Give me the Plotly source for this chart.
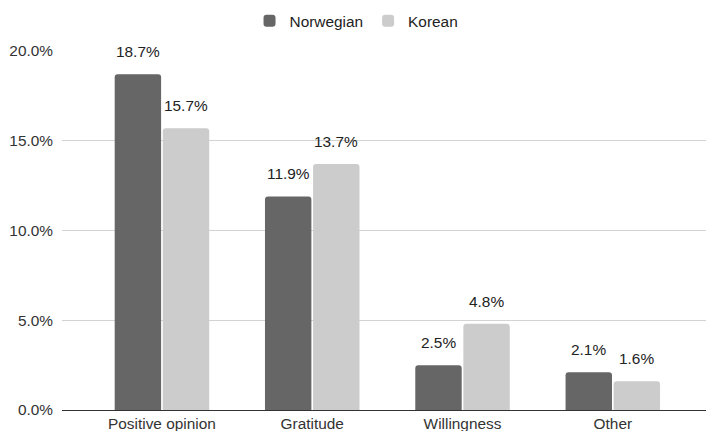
import plotly.graph_objects as go

# Share of responses by category, in percent
categories = ["Positive opinion", "Gratitude", "Willingness", "Other"]
norwegian = [18.7, 11.9, 2.5, 2.1]
korean = [15.7, 13.7, 4.8, 1.6]
y_ticks = [0, 5, 10, 15, 20]

FONT = "Arial, Liberation Sans, sans-serif"
FS = 15.4
BARGAP = 0.36
GROUPGAP = 0.035

fig = go.Figure()
fig.add_trace(go.Bar(name="Norwegian", x=categories, y=norwegian,
                     marker=dict(color="#666666", cornerradius=3, line=dict(width=0))))
fig.add_trace(go.Bar(name="Korean", x=categories, y=korean,
                     marker=dict(color="#cccccc", cornerradius=3, line=dict(width=0))))

# Value labels sit a little above each bar
slot = (1 - BARGAP) / 2
for series, sign in ((norwegian, -1), (korean, 1)):
    for i, v in enumerate(series):
        fig.add_annotation(x=i + sign * slot / 2, y=v, text=f"{v:.1f}%",
                           showarrow=False, yanchor="bottom", yshift=12,
                           font=dict(family=FONT, size=FS, color="#222222"))

fig.update_layout(
    width=706, height=431,
    margin=dict(l=62, r=0, t=51, b=21),
    paper_bgcolor="white", plot_bgcolor="white",
    barmode="group", bargap=BARGAP, bargroupgap=GROUPGAP,
    font=dict(family=FONT, size=FS, color="#333333"),
    showlegend=True,
    legend=dict(orientation="h", xref="container", x=0.505, xanchor="center",
                yref="container", y=0.99, yanchor="top",
                font=dict(family=FONT, size=FS, color="#222222"),
                itemclick=False),
    xaxis=dict(type="category", range=[-0.665, 3.62], showgrid=False,
               showline=True, linecolor="#333333", linewidth=1,
               ticks="", ticklabelstandoff=0, fixedrange=True),
    yaxis=dict(range=[0, 20], tickvals=y_ticks,
               ticktext=[f"{t:.1f}%" for t in y_ticks],
               showgrid=True, gridcolor="#d3d3d3", gridwidth=1,
               zeroline=False, showline=False, ticks="",
               ticklabelstandoff=8, fixedrange=True),
)

fig.write_html("out.html")
